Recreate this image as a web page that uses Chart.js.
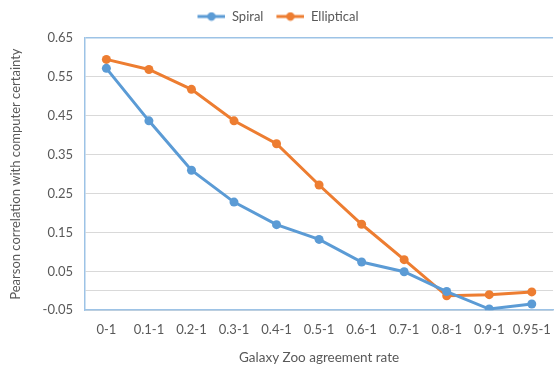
<!DOCTYPE html>
<html>
<head>
<meta charset="utf-8">
<script src="https://cdn.jsdelivr.net/npm/chart.js@4/dist/chart.umd.min.js"></script>
<style>
  html, body { margin: 0; padding: 0; background: #fff; overflow: hidden; }
  #wrap { position: relative; width: 563px; height: 366px; }
</style>
</head>
<body>
<div id="wrap"><canvas id="chart"></canvas></div>
<script>
// Agreement-rate bins on the x axis
const categories = ['0-1', '0.1-1', '0.2-1', '0.3-1', '0.4-1', '0.5-1', '0.6-1', '0.7-1', '0.8-1', '0.9-1', '0.95-1'];
// Pearson correlation per bin
const spiral     = [0.572, 0.437, 0.310, 0.228, 0.170, 0.132, 0.074, 0.049, -0.002, -0.047, -0.034];
const elliptical = [0.595, 0.569, 0.518, 0.437, 0.378, 0.272, 0.171, 0.080, -0.013, -0.010, -0.003];
// Labelled y ticks
const yTicks = [-0.05, 0.05, 0.15, 0.25, 0.35, 0.45, 0.55, 0.65];

const BLUE = '#5B9BD5';
const ORANGE = '#ED7D31';
const AXIS = '#9DC3E6';
const GRID = '#D9D9D9';
const TEXT = '#595959';
const FONT = 'Lato, "Open Sans", sans-serif';

// Legend marker: short line with a dot in the middle (left 5px kept empty as item spacing)
function marker(color) {
  const c = document.createElement('canvas');
  c.width = 33; c.height = 10;
  const g = c.getContext('2d');
  g.strokeStyle = color; g.lineWidth = 3;
  g.beginPath(); g.moveTo(5, 5); g.lineTo(33, 5); g.stroke();
  g.fillStyle = color;
  g.beginPath(); g.arc(19, 5, 4.2, 0, Math.PI * 2); g.fill();
  return c;
}

// Legend spacing below, and a small shift to the left
const legendTweak = {
  id: 'legendTweak',
  beforeInit(chart) {
    const legend = chart.legend;
    const fit = legend.fit;
    legend.fit = function () {
      fit.call(this);
      this.height += 5;
    };
    const draw = legend.draw;
    legend.draw = function () {
      const ctx = this.ctx;
      ctx.save();
      ctx.translate(-10, 0);
      draw.call(this);
      ctx.restore();
    };
  }
};

new Chart(document.getElementById('chart'), {
  type: 'line',
  data: {
    labels: categories,
    datasets: [
      { label: 'Spiral', data: spiral, borderColor: BLUE, backgroundColor: BLUE,
        borderWidth: 3, pointRadius: 4.5, pointBackgroundColor: BLUE, pointBorderWidth: 0,
        pointStyle: 'circle', tension: 0 },
      { label: 'Elliptical', data: elliptical, borderColor: ORANGE, backgroundColor: ORANGE,
        borderWidth: 3, pointRadius: 4.5, pointBackgroundColor: ORANGE, pointBorderWidth: 0,
        pointStyle: 'circle', tension: 0 }
    ]
  },
  plugins: [legendTweak],
  options: {
    responsive: true,
    maintainAspectRatio: false,
    animation: false,
    layout: { padding: { left: 8, right: 0, top: 2, bottom: 0 } },
    plugins: {
      tooltip: { enabled: false },
      legend: {
        position: 'top',
        labels: {
          font: { family: FONT, size: 13 },
          color: TEXT,
          boxWidth: 33,
          boxHeight: 10,
          pointStyleWidth: 33,
          padding: 8,
          usePointStyle: true,
          generateLabels: (chart) => chart.data.datasets.map((ds, i) => ({
            text: ds.label,
            fontColor: TEXT,
            pointStyle: marker(ds.borderColor),
            datasetIndex: i,
            hidden: false,
            lineWidth: 0
          }))
        }
      }
    },
    scales: {
      x: {
        offset: true,
        grid: { display: false, drawTicks: false },
        border: { color: AXIS, width: 1.5 },
        ticks: { font: { family: FONT, size: 13 }, color: TEXT, padding: 12, maxRotation: 0, autoSkip: false },
        title: { display: true, text: 'Galaxy Zoo agreement rate',
                 font: { family: FONT, size: 13.5 }, color: TEXT, padding: { top: 0, bottom: 0 } }
      },
      y: {
        min: -0.05,
        max: 0.65,
        afterBuildTicks: (axis) => {
          axis.ticks = yTicks.concat([0]).map(v => ({ value: v }));
        },
        grid: {
          drawTicks: false,
          color: (ctx) => {
            if (!ctx.tick) return GRID;
            if (Math.abs(ctx.tick.value - 0.65) < 1e-9) return AXIS;
            return GRID;
          },
          lineWidth: (ctx) => (ctx.tick && Math.abs(ctx.tick.value - 0.65) < 1e-9) ? 1.5 : 1
        },
        border: { color: AXIS, width: 1.5 },
        ticks: {
          font: { family: FONT, size: 13 }, color: TEXT, padding: 12,
          callback: (v) => Math.abs(v) < 1e-9 ? '' : v.toFixed(2)
        },
        title: { display: true, text: 'Pearson correlation with computer certainty',
                 font: { family: FONT, size: 13 }, color: TEXT, padding: { top: 0, bottom: 7 } }
      }
    }
  }
});
</script>
</body>
</html>
